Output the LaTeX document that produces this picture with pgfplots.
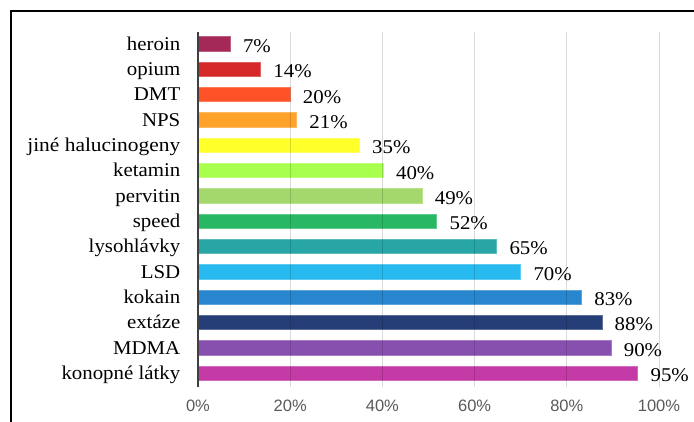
\documentclass[border=0pt]{standalone}
\usepackage{fontspec}
\setmainfont{Liberation Serif}[FakeStretch=1.07]
\newfontfamily\tickfont{Liberation Sans}
\usepackage{graphicx}
\usepackage{pgfplots}
\pgfplotsset{compat=1.18}
\definecolor{cHeroin}{HTML}{A42858}
\definecolor{cOpium}{HTML}{D62A2A}
\definecolor{cDMT}{HTML}{FF5227}
\definecolor{cNPS}{HTML}{FFA22A}
\definecolor{cJine}{HTML}{FFFF2A}
\definecolor{cKetamin}{HTML}{A8FF4E}
\definecolor{cPervitin}{HTML}{A2D86C}
\definecolor{cSpeed}{HTML}{28B864}
\definecolor{cLyso}{HTML}{28A6A6}
\definecolor{cLSD}{HTML}{28BAEE}
\definecolor{cKokain}{HTML}{2886CE}
\definecolor{cExtaze}{HTML}{263E78}
\definecolor{cMDMA}{HTML}{8850AE}
\definecolor{cKonop}{HTML}{C43AA6}
\definecolor{tickgray}{HTML}{595959}
\newcommand{\drugbar}[4]{%
  \addplot[fill=#4, draw=#4!75!white, line width=0.6pt,
    nodes near coords={#3\%}] coordinates {(#2,#1)};}
\newcommand{\jine}{\resizebox{153pt}{\height}{jiné halucinogeny}}
\begin{document}
\begin{tikzpicture}
\path[use as bounding box] (-198pt,-34pt) rectangle (496pt,387pt);
\begin{axis}[
  at={(0pt,0pt)}, anchor=south west,
  scale only axis, width=461pt, height=355pt,
  xbar, bar width=14.4pt, bar shift=0pt,
  xmin=0, xmax=100, ymin=-0.55, ymax=13.47,
  axis lines*=left,
  x axis line style={draw=none},
  y axis line style={draw=black!75, line width=2pt},
  axis on top,
  xmajorgrids,
  major grid style={black, opacity=0.15, line width=1pt},
  major tick length=0pt,
  xtick={0,20,40,60,80,100},
  xticklabels={0\%,20\%,40\%,60\%,80\%,100\%},
  xticklabel style={font=\tickfont\fontsize{16.5}{18}\selectfont, text=tickgray, anchor=base, inner sep=0pt, yshift=-24.7pt},
  ytick={0,...,13},
  yticklabels={konopné látky,MDMA,extáze,kokain,LSD,lysohlávky,speed,pervitin,ketamin,\jine,NPS,DMT,opium,heroin},
  yticklabel style={font=\fontsize{19.5}{21}\selectfont, anchor=base east, inner sep=0pt, xshift=-17.5pt, yshift=-6.3pt},
  nodes near coords style={font=\fontsize{19.5}{21}\selectfont, anchor=base west, inner sep=0pt, xshift=12.5pt, yshift=-8.5pt, text=black},
]
\drugbar{13}{7}{7}{cHeroin}
\drugbar{12}{13.6}{14}{cOpium}
\drugbar{11}{20}{20}{cDMT}
\drugbar{10}{21.4}{21}{cNPS}
\drugbar{9}{35}{35}{cJine}
\drugbar{8}{40.2}{40}{cKetamin}
\drugbar{7}{48.6}{49}{cPervitin}
\drugbar{6}{51.8}{52}{cSpeed}
\drugbar{5}{64.8}{65}{cLyso}
\drugbar{4}{70}{70}{cLSD}
\drugbar{3}{83.2}{83}{cKokain}
\drugbar{2}{87.6}{88}{cExtaze}
\drugbar{1}{89.6}{90}{cMDMA}
\drugbar{0}{95.4}{95}{cKonop}
\end{axis}
\draw[line width=1.8pt] (-187pt,-40pt) -- (-187pt,376pt) -- (500pt,376pt);
\end{tikzpicture}
\end{document}
